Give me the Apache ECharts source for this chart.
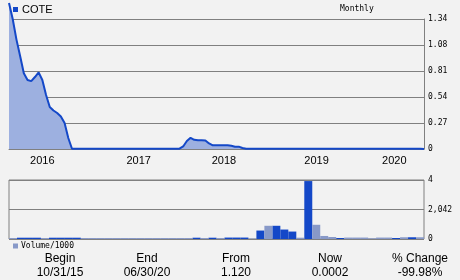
<!DOCTYPE html>
<html>
<head>
<meta charset="utf-8">
<script src="https://cdn.jsdelivr.net/npm/echarts@6/dist/echarts.min.js"></script>
<style>
html,body{margin:0;padding:0;background:#f2f2f2;}
#c{width:460px;height:280px;}
</style>
</head>
<body>
<div id="c"></div>
<script>
// ---- data ----
const ticker = 'COTE';
const periodLabel = 'Monthly';
// semi-monthly price samples from 10/31/15 to 06/30/20
const price = [
  1.505, 1.34, 1.13, 0.959, 0.78, 0.711, 0.70, 0.742, 0.79, 0.711,
  0.557, 0.433, 0.397, 0.371, 0.335, 0.268, 0.113, 0.003,
  0.003, 0.003, 0.003, 0.003, 0.003, 0.003, 0.003, 0.003, 0.003, 0.003,
  0.003, 0.003, 0.003, 0.003, 0.003, 0.003, 0.003, 0.003, 0.003, 0.003,
  0.003, 0.003, 0.003, 0.003, 0.003, 0.003, 0.003, 0.003, 0.003,
  0.026, 0.082, 0.115, 0.095, 0.09, 0.09, 0.088, 0.057, 0.038, 0.038,
  0.038, 0.038, 0.038, 0.033, 0.024, 0.024, 0.01,
  0.003, 0.003, 0.003, 0.003, 0.003, 0.003, 0.003, 0.003, 0.003, 0.003,
  0.003, 0.003, 0.003, 0.003, 0.003, 0.003, 0.003, 0.003, 0.003, 0.003,
  0.003, 0.003, 0.003, 0.003, 0.003, 0.003, 0.003, 0.003, 0.003, 0.003,
  0.003, 0.003, 0.003, 0.003, 0.003, 0.003, 0.003, 0.003, 0.003, 0.003,
  0.003, 0.003, 0.003, 0.003, 0.003, 0.003, 0.003, 0.003,
  0.0002
];
const yearLabelIdx = [9, 35, 58, 83, 104];
const priceTickLabels = ['0', '0.27', '0.54', '0.81', '1.08', '1.34'];
const volTickLabels = ['0', '2,042', '4'];
// volume (in 1000s), split into up (blue) and down (grey) periods
const volUp = ['-',90,90,90,'-',90,90,90,90,
  '-','-','-','-','-','-','-','-','-','-','-','-','-','-',
  90,'-',90,'-',100,100,100,'-',585,'-',915,655,515,'-',4010,'-','-','-',70,
  '-','-','-','-','-','-',70,'-',120,'-'];
const volDown = [70,'-','-','-',70,'-','-','-','-',
  70,70,70,70,70,70,70,70,70,70,70,70,70,70,
  '-',70,'-',70,'-','-','-',30,'-',915,'-','-','-',90,'-',985,210,140,'-',
  100,100,100,50,100,100,'-',120,'-',120];
const statLabels = ['Begin', 'End', 'From', 'Now', '% Change'];
const statValues = ['10/31/15', '06/30/20', '1.120', '0.0002', '-99.98%'];

// ---- derived categories ----
const monthNames = ['01','02','03','04','05','06','07','08','09','10','11','12'];
const priceDates = price.map((_, k) => {
  const off = 9 + Math.ceil(k / 2);
  const y = 2015 + Math.floor(off / 12);
  const m = monthNames[off % 12];
  return y + '-' + m + (k % 2 ? '-15' : '-end');
});
const volCats = volUp.map((_, i) => 'P' + i);

const mono = 'DejaVu Sans Mono';
const sans = 'Liberation Sans';
const grey = '#808080';
const blue = '#1448c8';
const volGrey = '#8899c8';

const statX = [60, 147, 236, 330, 420];
const graphics = [];
statLabels.forEach((t, i) => {
  graphics.push({type:'text', x: statX[i], y: 259, style:{text:t, font:'12px ' + sans, fill:'#000', textAlign:'center', textVerticalAlign:'middle'}});
  graphics.push({type:'text', x: statX[i], y: 273, style:{text:statValues[i], font:'12px ' + sans, fill:'#000', textAlign:'center', textVerticalAlign:'middle'}});
});

const chart = echarts.init(document.getElementById('c'), null, {renderer:'canvas'});
chart.setOption({
  animation: false,
  backgroundColor: '#f2f2f2',
  title: {text: periodLabel, left: 340, top: 5, padding: 0,
    textStyle: {fontFamily: mono, fontSize: 8, fontWeight: 'normal', color: '#000'}},
  legend: [
    {data: [ticker], left: 13, top: 4, padding: 0, icon: 'rect', itemWidth: 5, itemHeight: 5,
      textStyle: {fontFamily: sans, fontSize: 11, color: '#000', padding: [0,0,0,-1]}},
    {data: ['Volume/1000'], left: 13, top: 242, padding: 0, icon: 'rect', itemWidth: 5, itemHeight: 5,
      textStyle: {fontFamily: mono, fontSize: 8, color: '#000', padding: [0,0,0,-2]}}
  ],
  grid: [
    {left: 9, right: 36, top: 19, height: 130},
    {left: 9, right: 36, top: 180, height: 59, show: true, borderColor: grey, borderWidth: 1, backgroundColor: 'transparent'}
  ],
  xAxis: [
    {type: 'category', gridIndex: 0, data: priceDates, boundaryGap: false,
      axisLine: {lineStyle: {color: grey}}, axisTick: {show: false},
      axisLabel: {interval: (i) => yearLabelIdx.includes(i),
        formatter: (v) => v.slice(0, 4), fontFamily: sans, fontSize: 11, color: '#000', margin: 6}},
    {type: 'category', gridIndex: 1, data: volCats, boundaryGap: true,
      axisLine: {show: false}, axisTick: {show: false}, axisLabel: {show: false}}
  ],
  yAxis: [
    {type: 'value', gridIndex: 0, position: 'right', min: 0, max: 1.34, interval: 0.268,
      axisLine: {show: true, lineStyle: {color: grey}}, axisTick: {show: false},
      splitLine: {lineStyle: {color: grey}},
      axisLabel: {formatter: (v) => priceTickLabels[Math.round(v / 0.268)], fontFamily: mono, fontSize: 8, color: '#000', margin: 4}},
    {type: 'value', gridIndex: 1, position: 'right', min: 0, max: 4084, interval: 2042,
      axisLine: {show: false}, axisTick: {show: false},
      splitLine: {lineStyle: {color: grey}},
      axisLabel: {formatter: (v) => volTickLabels[Math.round(v / 2042)], fontFamily: mono, fontSize: 8, color: '#000', margin: 4}}
  ],
  series: [
    {name: ticker, type: 'line', xAxisIndex: 0, yAxisIndex: 0, data: price, clip: false,
      symbol: 'none', color: blue, lineStyle: {color: blue, width: 2},
      areaStyle: {color: '#9db0e0', opacity: 1}},
    {name: 'vol', type: 'bar', xAxisIndex: 1, yAxisIndex: 1, data: volUp, barWidth: '100%', barGap: '-100%',
      itemStyle: {color: blue}},
    {name: 'Volume/1000', type: 'bar', xAxisIndex: 1, yAxisIndex: 1, data: volDown, barWidth: '100%', barGap: '-100%',
      color: volGrey, itemStyle: {color: volGrey}}
  ],
  graphic: graphics
});
</script>
</body>
</html>
